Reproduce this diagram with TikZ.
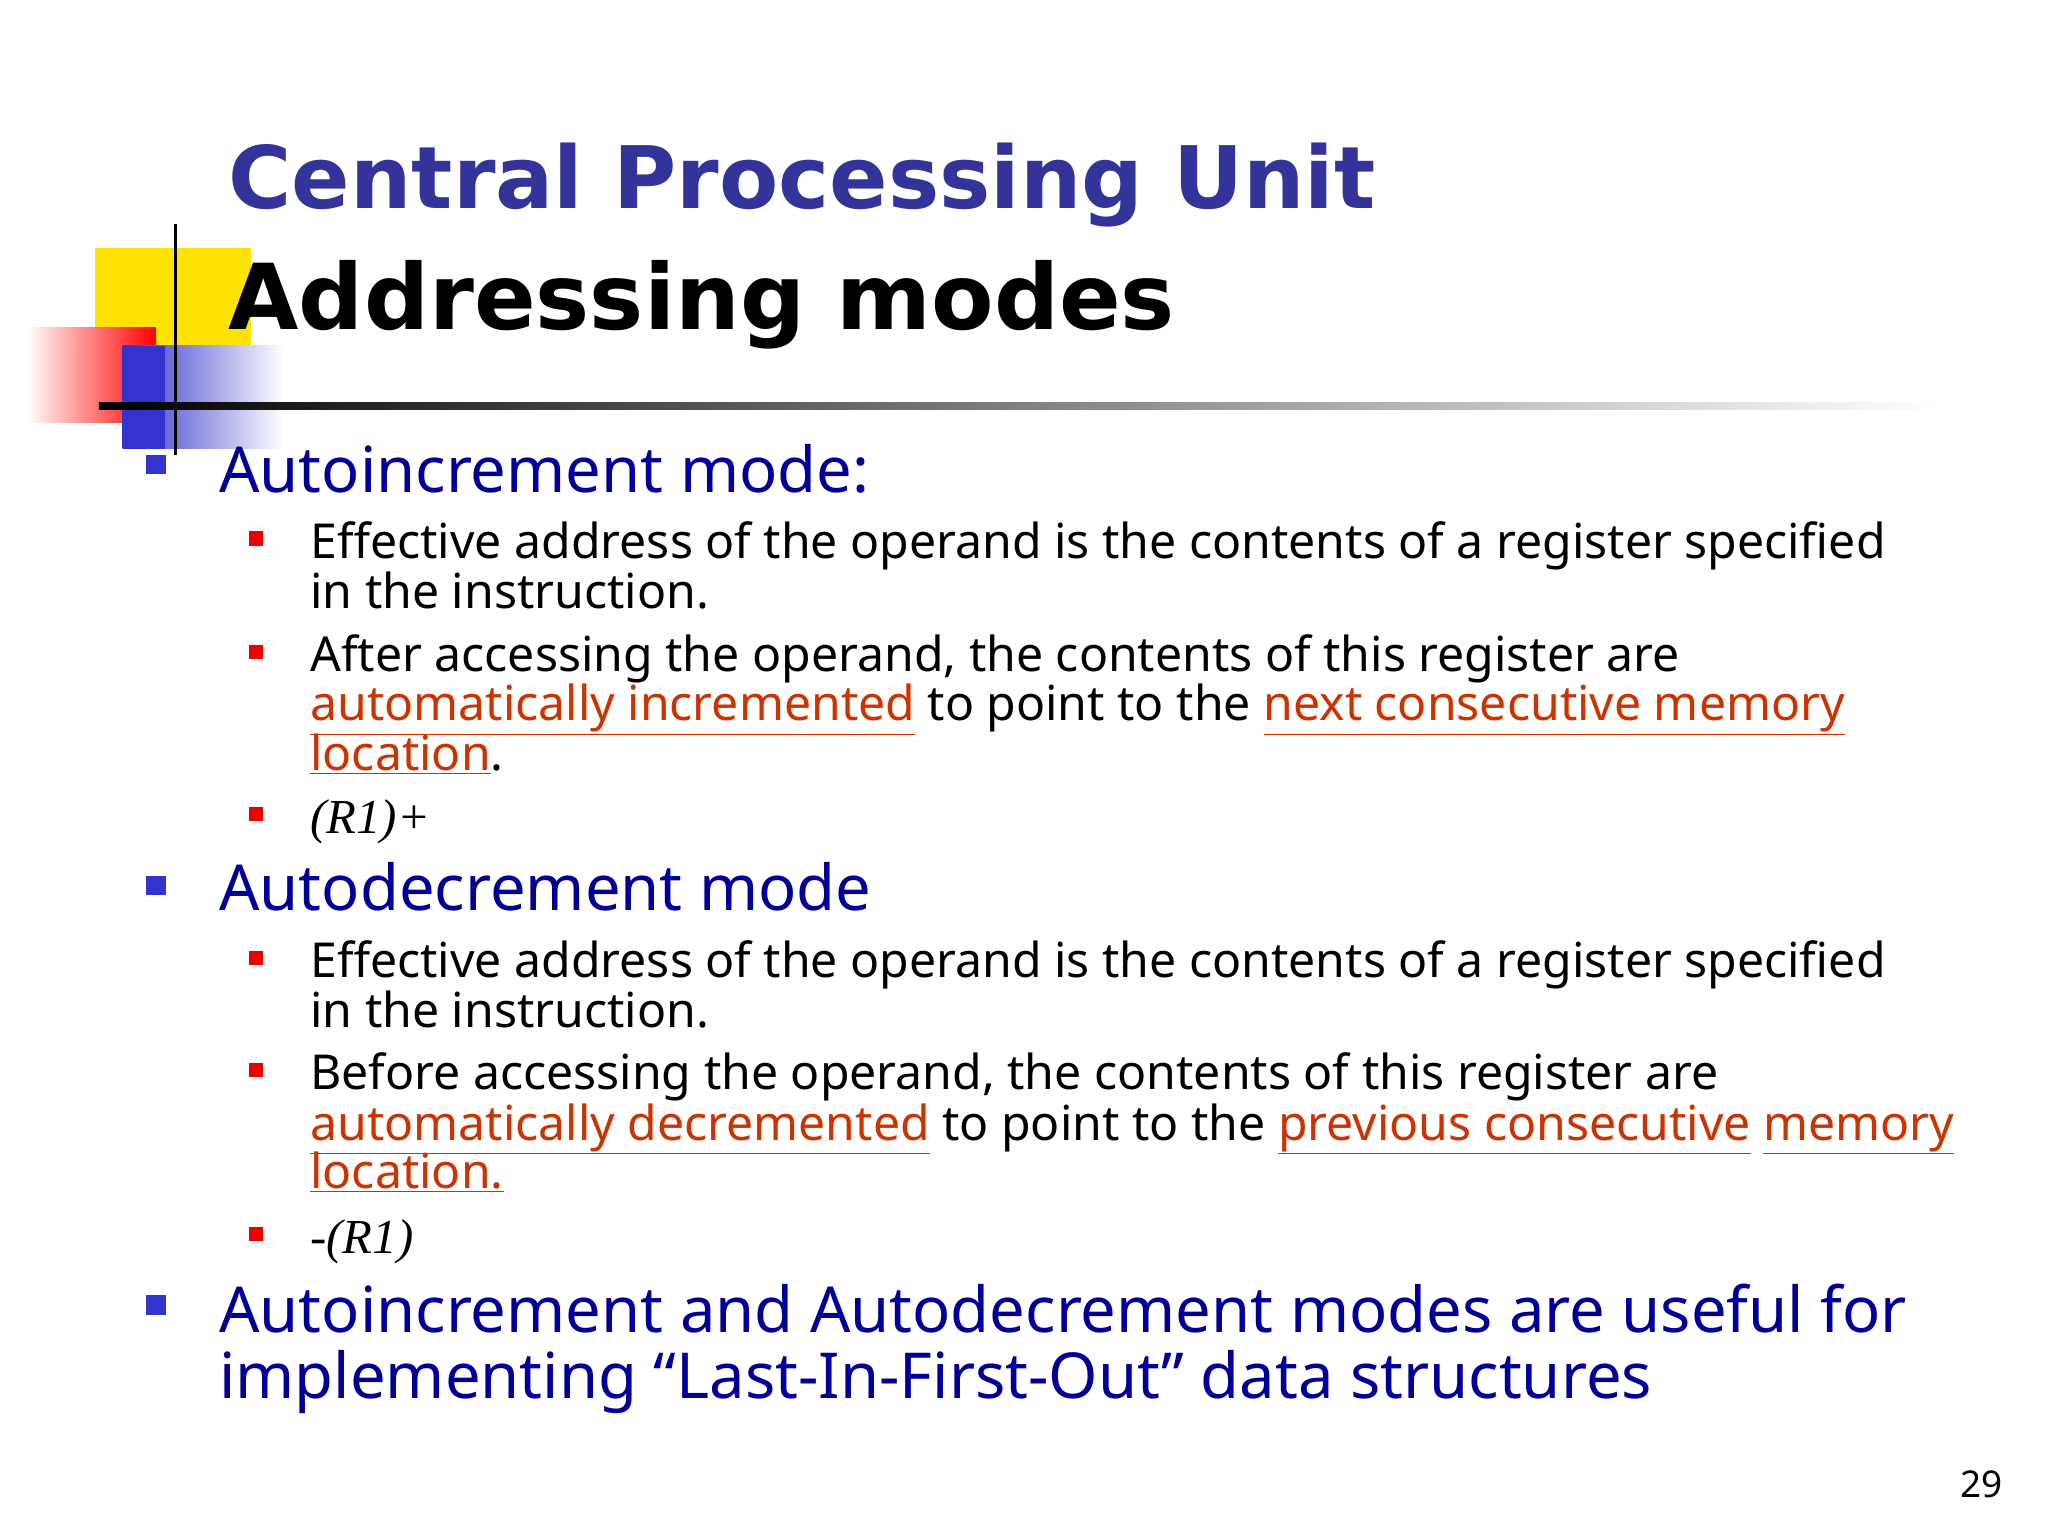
\documentclass[tikz,border=0pt]{standalone}
\usepackage{fontspec}
\usepackage{graphicx}
\setmainfont{Noto Sans}
\newfontfamily\timesit{Liberation Serif}
\newfontfamily\ttlfont{DejaVu Sans Condensed}[BoldFont={DejaVu Sans Condensed Bold}]
\newfontfamily\ttlbold{DejaVu Sans Bold}
\definecolor{ttl}{HTML}{333399}
\definecolor{lone}{HTML}{000099}
\definecolor{ul}{HTML}{CC3300}
\definecolor{bred}{HTML}{EE0000}
\definecolor{bblue}{HTML}{3333CC}
\newcommand{\hl}[1]{\textcolor{ul}{\underline{#1}}}
\begin{document}
\begin{tikzpicture}[x=1pt,y=-1pt,
  lone/.style={anchor=base west,inner sep=0,font=\fontsize{48}{54}\selectfont,text=lone},
  ltwo/.style={anchor=base west,inner sep=0,font=\fontsize{36.5}{40}\selectfont},
  bone/.style={fill=bblue,minimum size=15pt,inner sep=0},
  btwo/.style={fill=bred,minimum size=11pt,inner sep=0}]
\useasboundingbox (0,0) rectangle (1552,1164);
\fill[white] (0,0) rectangle (1552,1164);
% decoration
\fill[yellow!85!orange] (72,188) rectangle (190,305);
\shade[left color=white,right color=red] (20,248) rectangle (118,320);
\shade[left color=bblue,right color=white] (93,262) rectangle (215,340);
\fill[bblue] (93,262) rectangle (125,340);
\draw[line width=3pt] (133,170) -- (133,345);
\shade[left color=black,right color=white] (75,305) rectangle (1470,310);
% title
\node[anchor=base west,inner sep=0,text=ttl] (t1) at (173,158) {\resizebox{869pt}{!}{\ttlbold Central Processing Unit}};
\node[anchor=base west,inner sep=0] (t2) at (173,250) {\resizebox{717pt}{!}{\ttlbold Addressing modes}};
% bullets
\node[bone] (b1) at (118,352) {};
\node[lone] (l1) at (166,373) {Autoincrement mode:};
\node[btwo] (s1) at (194,408) {};
\node[ltwo] (a1) at (235,423) {Effective address of the operand is the contents of a register specified};
\node[ltwo] (a2) at (235,461) {in the instruction.};
\node[btwo] (s2) at (194,494) {};
\node[ltwo] (a3) at (235,509) {After accessing the operand, the contents of this register are};
\node[ltwo] (a4) at (235,546) {\hl{automatically incremented} to point to the \hl{next consecutive memory}};
\node[ltwo] (a5) at (235,584) {\hl{location}.};
\node[btwo] (s3) at (194,617) {};
\node[ltwo,font=\fontsize{37}{40}\selectfont\timesit\itshape] (a6) at (235,632) {(R1)+};
\node[bone] (b2) at (118,671) {};
\node[lone] (l2) at (166,690) {Autodecrement mode};
\node[btwo] (s4) at (194,726) {};
\node[ltwo] (c1) at (235,741) {Effective address of the operand is the contents of a register specified};
\node[ltwo] (c2) at (235,779) {in the instruction.};
\node[btwo] (s5) at (194,811) {};
\node[ltwo] (c3) at (235,826) {Before accessing the operand, the contents of this register are};
\node[ltwo] (c4) at (235,864) {\hl{automatically decremented} to point to the \hl{previous consecutive} \hl{memory}};
\node[ltwo] (c5) at (235,901) {\hl{location.}};
\node[btwo] (s6) at (194,935) {};
\node[ltwo,font=\fontsize{37}{40}\selectfont\timesit\itshape] (c6) at (235,950) {-(R1)};
\node[bone] (b3) at (118,989) {};
\node[lone] (l3) at (166,1010) {Autoincrement and Autodecrement modes are useful for};
\node[lone] (l4) at (166,1060) {implementing “Last-In-First-Out” data structures};
\node[anchor=base east,inner sep=0,font=\fontsize{28}{32}\selectfont] (pg) at (1518,1135) {29};
\end{tikzpicture}
\end{document}
